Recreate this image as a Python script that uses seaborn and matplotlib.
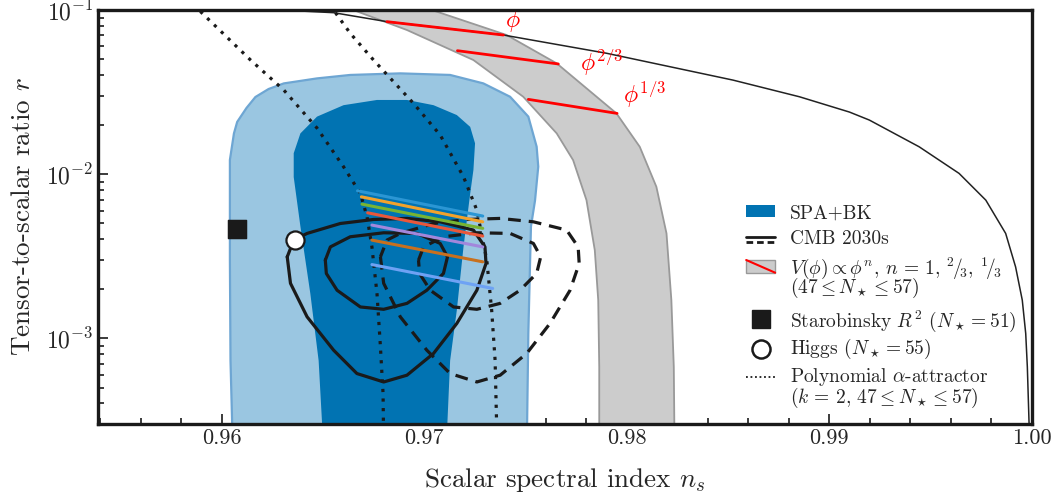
import numpy as np
import seaborn as sns
import matplotlib.pyplot as plt
from matplotlib.lines import Line2D
from matplotlib.patches import Rectangle
from matplotlib.ticker import MultipleLocator

# SPA+BK constraints (outer = 95%, inner = 68%)
light_ns = [0.96056, 0.96044, 0.96041, 0.96041, 0.96061, 0.96077, 0.96123, 0.96167, 0.96232, 0.96307, 0.96471,
            0.96635, 0.96882, 0.97128, 0.97292, 0.97424, 0.97514, 0.97555, 0.97563, 0.97547, 0.97527, 0.97522,
            0.97514, 0.97506]
light_r = [2e-4, 7.3e-4, 3.0e-3, 1.22e-2, 1.77e-2, 2.08e-2, 2.53e-2, 2.95e-2, 3.3e-2, 3.57e-2, 3.83e-2,
           4.02e-2, 4.11e-2, 4.02e-2, 3.57e-2, 2.96e-2, 2.24e-2, 1.47e-2, 1.11e-2, 6.9e-3, 4.8e-3, 2.7e-3,
           1.07e-3, 2e-4]
dark_ns = [0.96504, 0.96479, 0.96438, 0.96389, 0.96356, 0.96356, 0.96389, 0.96471, 0.96602, 0.96767, 0.96915,
           0.97046, 0.97161, 0.97227, 0.97251, 0.97243, 0.97227, 0.97194, 0.97161, 0.97128, 0.97108]
dark_r = [2e-4, 7.3e-4, 1.87e-3, 4.8e-3, 9.6e-3, 1.34e-2, 1.77e-2, 2.24e-2, 2.63e-2, 2.83e-2, 2.83e-2,
          2.63e-2, 2.29e-2, 1.94e-2, 1.54e-2, 1.06e-2, 7.6e-3, 3.6e-3, 1.48e-3, 7.3e-4, 2e-4]

# CMB 2030s forecasts: solid and dashed fiducials
outer_ns = [0.96324, 0.96340, 0.96422, 0.96553, 0.96668, 0.96800, 0.96915, 0.97046, 0.97161, 0.97260,
            0.97305, 0.97300, 0.97243, 0.97079, 0.96915, 0.96750, 0.96586, 0.96422, 0.96356]
outer_r = [3.13e-3, 2.16e-3, 1.35e-3, 8.45e-4, 6.09e-4, 5.41e-4, 5.95e-4, 8.07e-4, 1.23e-3, 1.96e-3,
           2.85e-3, 3.60e-3, 4.56e-3, 5.12e-3, 5.37e-3, 5.29e-3, 5.0e-3, 4.35e-3, 3.96e-3]
inner_ns = [0.96512, 0.96537, 0.96635, 0.96800, 0.96964, 0.97079, 0.97115, 0.97095, 0.97013, 0.96915,
            0.96800, 0.96685, 0.96570, 0.96517]
inner_r = [2.99e-3, 3.60e-3, 4.15e-3, 4.39e-3, 4.35e-3, 3.78e-3, 3.13e-3, 2.48e-3, 1.96e-3, 1.63e-3,
           1.50e-3, 1.55e-3, 1.96e-3, 2.48e-3]
outer_dash_ns = [0.96784, 0.96800, 0.96882, 0.97013, 0.97128, 0.97260, 0.97375, 0.97506, 0.97621, 0.97720,
                 0.97765, 0.97760, 0.97703, 0.97539, 0.97375, 0.97210, 0.97046, 0.96882, 0.96816]
inner_dash_ns = [0.96972, 0.96997, 0.97095, 0.97260, 0.97424, 0.97539, 0.97575, 0.97555, 0.97473, 0.97375,
                 0.97260, 0.97145, 0.97030, 0.96977]

# monomial band phi^n
band_lo_ns = [0.9665, 0.96915, 0.97243, 0.97489, 0.97654, 0.97735, 0.97801, 0.97842, 0.97859, 0.97864, 0.97864]
band_lo_r = [0.1, 0.0755, 0.04955, 0.0296, 0.01771, 0.01217, 6.94e-3, 3.44e-3, 1.706e-3, 6.68e-4, 2e-4]
band_hi_ns = [0.97038, 0.97407, 0.97654, 0.97949, 0.98064, 0.98146, 0.98196, 0.98220, 0.98232, 0.98236]
band_hi_r = [0.1, 0.0704, 0.0473, 0.02344, 0.01467, 8.37e-3, 4.35e-3, 1.706e-3, 6.68e-4, 2e-4]

# red N = 47..57 segments
red_labels = [r'$\phi$', r'$\phi^{2/3}$', r'$\phi^{1/3}$']
red_ns = [(0.96816, 0.97391), (0.97164, 0.97662), (0.97514, 0.97952)]
red_r = [(0.0849, 0.0704), (0.0565, 0.0469), (0.02854, 0.02344)]
red_label_ns = [0.97399, 0.97768, 0.97980]
red_label_r = [0.0714, 0.0385, 0.02456]

# thin black curve
thin_ns = [0.96291, 0.96553, 0.96816, 0.97391, 0.97900, 0.98524, 0.98852, 0.99099, 0.99197, 0.99443,
           0.99640, 0.99772, 0.99870, 0.99919, 0.99952, 0.99969, 0.99977, 0.99990]
thin_r = [0.1, 0.0963, 0.0849, 0.0704, 0.0545, 0.0374, 0.0296, 0.02388, 0.02135, 0.01467,
          0.0101, 6.94e-3, 4.35e-3, 2.72e-3, 1.706e-3, 1.068e-3, 6.68e-4, 2e-4]

# polynomial alpha-attractor (dotted)
dot1_ns = [0.95895, 0.96143, 0.96307, 0.96471, 0.96602, 0.96685, 0.96718, 0.96742, 0.96767, 0.96783, 0.96797, 0.96799]
dot1_r = [0.098, 0.04955, 0.03252, 0.01908, 0.01108, 7.62e-3, 5.49e-3, 3.6e-3, 1.874e-3, 9.28e-4, 4.6e-4, 2.8e-4]
dot2_ns = [0.96562, 0.96635, 0.96750, 0.96947, 0.97079, 0.97194, 0.97260, 0.97309, 0.97333, 0.97350, 0.97358]
dot2_r = [0.0963, 0.0721, 0.04955, 0.027, 0.0173, 9.63e-3, 6.03e-3, 2.99e-3, 1.482e-3, 7.34e-4, 2.8e-4]

# coloured model segments
seg_colors = ['#2b96d4', '#f2a22c', '#78b432', '#e9573a', '#a287dc', '#c8701e', '#6ea2f4']
seg_ns = [(0.96671, 0.97289), (0.96690, 0.97289), (0.96693, 0.97289), (0.96721, 0.97289),
          (0.96742, 0.97289), (0.96742, 0.97289), (0.96742, 0.97338)]
seg_r = [(7.91e-3, 5.55e-3), (7.27e-3, 5.12e-3), (6.56e-3, 4.67e-3), (5.81e-3, 4.19e-3),
         (4.89e-3, 3.60e-3), (3.96e-3, 2.92e-3), (2.81e-3, 2.01e-3)]

staro_ns, staro_r = 0.96078, 4.6e-3
higgs_ns, higgs_r = 0.96361, 3.96e-3

legend_labels = ['SPA+BK', 'CMB 2030s',
                 r'$V(\phi) \propto \phi^n$, $n\,=\,1$, ${}^2\!/\!{}_3$, ${}^1\!/\!{}_3$' + '\n'
                 + r'$(47 \leq N_\star \leq 57)$',
                 r'Starobinsky $R^2$ $(N_\star = 51)$', r'Higgs $(N_\star = 55)$',
                 r'Polynomial $\alpha$-attractor' + '\n' + r'$(k\,=\,2$, $47 \leq N_\star \leq 57)$']

sns.set_theme(style='ticks')
plt.rcParams['font.family'] = 'serif'
plt.rcParams['font.serif'] = ['cmr10']
plt.rcParams['mathtext.fontset'] = 'cm'
plt.rcParams['axes.formatter.use_mathtext'] = True
plt.rcParams['axes.unicode_minus'] = False

fig = plt.figure(figsize=(10.57, 5.04), dpi=100)
ax = fig.add_axes([98 / 1057, 1 - 424 / 504, (1032 - 98) / 1057, (424 - 10) / 504])

ax.fill(light_ns, light_r, fc='#9ac6e1', ec='#6ea6d3', lw=1.6, zorder=1)
ax.fill(dark_ns, dark_r, fc='#0173b2', ec='none', zorder=2)

ax.fill(band_lo_ns + band_hi_ns[::-1], band_lo_r + band_hi_r[::-1], fc='#cccccc', ec='none', zorder=1)
ax.plot(band_lo_ns, band_lo_r, color='#999999', lw=1.3, zorder=1.5)
ax.plot(band_hi_ns, band_hi_r, color='#999999', lw=1.3, zorder=1.5)

sns.lineplot(x=thin_ns, y=thin_r, sort=False, estimator=None, color='#222222', lw=1.1, ax=ax, zorder=3)

for xs, ys, lab, lx, ly in zip(red_ns, red_r, red_labels, red_label_ns, red_label_r):
    sns.lineplot(x=list(xs), y=list(ys), sort=False, estimator=None, color='red', lw=2, ax=ax, zorder=4)
    ax.text(lx, ly, lab, color='red', fontsize=17, ha='left', va='bottom')

ax.plot(dot1_ns, dot1_r, color='k', lw=2.3, ls=(0, (1, 2)), zorder=5)
ax.plot(dot2_ns, dot2_r, color='k', lw=2.3, ls=(0, (1, 2)), zorder=5)

ax.plot(outer_ns + outer_ns[:1], outer_r + outer_r[:1], color='k', lw=2.3, zorder=6)
ax.plot(inner_ns + inner_ns[:1], inner_r + inner_r[:1], color='k', lw=2.3, zorder=6)
ax.plot(outer_dash_ns + outer_dash_ns[:1], outer_r + outer_r[:1], color='k', lw=2.3, ls=(0, (4, 2.5)), zorder=6)
ax.plot(inner_dash_ns + inner_dash_ns[:1], inner_r + inner_r[:1], color='k', lw=2.3, ls=(0, (4, 2.5)), zorder=6)

for c, xs, ys in zip(seg_colors, seg_ns, seg_r):
    sns.lineplot(x=list(xs), y=list(ys), sort=False, estimator=None, color=c, lw=2.2, ax=ax, zorder=7)

sns.scatterplot(x=[staro_ns], y=[staro_r], marker='s', s=180, color='k', edgecolor='k', ax=ax, zorder=8)
sns.scatterplot(x=[higgs_ns], y=[higgs_r], marker='o', s=170, color='white', edgecolor='k', linewidth=1.6,
                ax=ax, zorder=8)

ax.set_yscale('log')
ax.set_xlim(0.9539, 1.0)
ax.set_ylim(3e-4, 0.1)
ax.set_xticks([0.96, 0.97, 0.98, 0.99, 1.00])
ax.set_xticklabels(['0.96', '0.97', '0.98', '0.99', '1.00'])
ax.xaxis.set_minor_locator(MultipleLocator(0.002))
ax.tick_params(which='both', direction='in', width=1.2, color='k')
ax.tick_params(axis='x', labelsize=16)
ax.tick_params(axis='y', labelsize=17)
ax.tick_params(which='major', length=7.5)
ax.tick_params(which='minor', length=4)
for s in ax.spines.values():
    s.set_linewidth(2.4)
    s.set_color('k')
    s.set_zorder(10)
ax.set_xlabel(r'Scalar spectral index $n_s$', fontsize=19.5, labelpad=13)
ax.set_ylabel(r'Tensor-to-scalar ratio $r$', fontsize=19.5, labelpad=8)

# legend, laid out row by row in axes fractions so the two-line entries
# keep their handle next to the first line
hx0, hx1, tx = 0.694, 0.725, 0.741
kw = dict(transform=ax.transAxes, clip_on=False, zorder=12)
ax.add_patch(Rectangle((hx0, 0.500), hx1 - hx0, 0.030, fc='#0173b2', ec='none', **kw))
ax.add_line(Line2D([hx0, hx1], [0.4505, 0.4505], color='k', lw=2, **kw))
ax.add_line(Line2D([hx0, hx1], [0.4395, 0.4395], color='k', lw=2, ls=(0, (2.4, 1.4)), **kw))
ax.add_patch(Rectangle((hx0, 0.3655), hx1 - hx0, 0.0306, fc='#cccccc', ec='#999999', lw=1, **kw))
ax.add_line(Line2D([hx0, hx1], [0.3961, 0.3655], color='red', lw=1.5, **kw))
ax.add_line(Line2D([(hx0 + hx1) / 2], [0.2543], ls='none', marker='s', ms=12.5, color='k', **kw))
ax.add_line(Line2D([(hx0 + hx1) / 2], [0.1812], ls='none', marker='o', ms=13, mfc='white', mec='k',
                   mew=1.8, **kw))
ax.add_line(Line2D([hx0, hx1], [0.1128, 0.1128], color='k', lw=1.3, ls=(0, (1, 1.5)), **kw))
# baseline of the last line of each entry, and line spacing for two-line entries
for txt, yb, ls in zip(legend_labels, [0.4969, 0.4341, 0.3157, 0.2350, 0.1691, 0.0514],
                       [1, 1, 0.72, 1, 1, 0.85]):
    ax.text(tx, yb, txt, transform=ax.transAxes, fontsize=14, ha='left', va='baseline',
            linespacing=ls, zorder=12)

fig.savefig('out.png', dpi=100)
